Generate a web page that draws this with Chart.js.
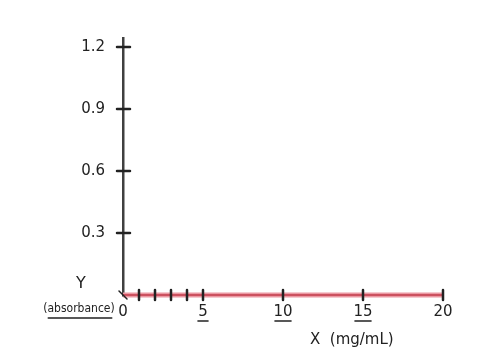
<!DOCTYPE html>
<html>
<head>
<meta charset="utf-8">
<script src="https://cdn.jsdelivr.net/npm/chart.js@4/dist/chart.umd.min.js"></script>
<style>
  html, body { margin: 0; padding: 0; background: #ffffff; }
  #wrap { width: 480px; height: 360px; position: relative; }
</style>
</head>
<body>
<div id="wrap"><canvas id="c" width="480" height="360"></canvas></div>
<script>
// ---- data ----
const concentrations = [0, 20];          // X (mg/mL)
const absorbance = [0, 0];               // Y (absorbance)
const yTickValues = [0.3, 0.6, 0.9, 1.2];
const yTickLabels = ['0.3', '0.6', '0.9', '1.2'];
const xTickValues = [0, 5, 10, 15, 20];
const xTickLabels = ['0', '5', '10', '15', '20'];
const xUnderlined = [5, 10, 15];
const xMarkValues = [1, 2, 3, 4, 5, 10, 15, 20];
const yTitle = 'Y';
const ySubtitle = '(absorbance)';
const xTitle = 'X  (mg/mL)';

const FONT = '"DejaVu Sans", sans-serif';
const INK = '#222222';

const points = concentrations.map((x, i) => ({ x: x, y: absorbance[i] }));

const handPlugin = {
  id: 'hand',
  afterDatasetsDraw(chart) {
    const ctx = chart.ctx;
    const xs = chart.scales.x, ys = chart.scales.y;
    const x0 = xs.getPixelForValue(0), y0 = ys.getPixelForValue(0);
    ctx.save();
    ctx.strokeStyle = INK;
    ctx.lineCap = 'round';
    // y tick marks crossing the axis
    ctx.lineWidth = 2.5;
    yTickValues.forEach(v => {
      const p = ys.getPixelForValue(v);
      ctx.beginPath(); ctx.moveTo(x0 - 6, p); ctx.lineTo(x0 + 7, p); ctx.stroke();
    });
    // x tick marks crossing the axis
    xMarkValues.forEach(v => {
      const p = xs.getPixelForValue(v);
      ctx.beginPath(); ctx.moveTo(p, y0 - 5); ctx.lineTo(p, y0 + 5); ctx.stroke();
    });
    // small cross at origin
    ctx.lineWidth = 1.5;
    ctx.beginPath(); ctx.moveTo(x0 - 4, y0 - 4); ctx.lineTo(x0 + 4, y0 + 4); ctx.stroke();
    // underline the labels 5, 10, 15
    ctx.lineWidth = 1.6;
    xUnderlined.forEach(v => {
      const p = xs.getPixelForValue(v);
      const w = v >= 10 ? 16 : 10;
      ctx.beginPath(); ctx.moveTo(p - w / 2, 321); ctx.lineTo(p + w / 2, 321); ctx.stroke();
    });
    // axis titles
    ctx.fillStyle = INK;
    ctx.textAlign = 'center';
    ctx.textBaseline = 'middle';
    ctx.font = '16px ' + FONT;
    ctx.fillText(yTitle, 81, 284);
    ctx.font = '12px "DejaVu Sans Condensed", ' + FONT;
    ctx.fillText(ySubtitle, 79, 309);
    const tw = ctx.measureText(ySubtitle).width;
    ctx.lineWidth = 1.5;
    ctx.beginPath(); ctx.moveTo(79 - tw / 2 + 5, 318); ctx.lineTo(79 + tw / 2 - 3, 318); ctx.stroke();
    ctx.font = '15px ' + FONT;
    ctx.textAlign = 'left';
    ctx.fillText(xTitle, 310, 340);
    ctx.restore();
  }
};

new Chart(document.getElementById('c'), {
  type: 'line',
  data: {
    datasets: [
      {
        data: points,
        borderColor: '#c23a48',
        borderWidth: 1.5,
        pointRadius: 0,
        clip: false,
        order: 0
      },
      {
        data: points,
        borderColor: '#eb98a2',
        borderWidth: 5,
        pointRadius: 0,
        clip: false,
        order: 1
      }
    ]
  },
  options: {
    responsive: false,
    animation: false,
    events: [],
    layout: { padding: { left: 0, right: 37, top: 38, bottom: 0 } },
    plugins: { legend: { display: false }, tooltip: { enabled: false }, title: { display: false } },
    scales: {
      x: {
        type: 'linear',
        min: 0,
        max: 20,
        afterFit(s) { s.height = 65; },
        afterBuildTicks(s) { s.ticks = xTickValues.map(v => ({ value: v })); },
        ticks: {
          autoSkip: false,
          maxRotation: 0,
          padding: 8,
          color: INK,
          font: { family: FONT, size: 15 },
          callback: (v) => { const i = xTickValues.indexOf(v); return i >= 0 ? xTickLabels[i] : ''; }
        },
        grid: { display: false, drawTicks: false },
        border: { display: true, color: INK, width: 2.5 }
      },
      y: {
        type: 'linear',
        min: 0,
        max: 1.2435,
        afterFit(s) { s.width = 123; },
        afterBuildTicks(s) { s.ticks = yTickValues.map(v => ({ value: v })); },
        ticks: {
          autoSkip: false,
          padding: 18,
          color: INK,
          font: { family: FONT, size: 15 },
          callback: (v) => { const i = yTickValues.indexOf(v); return i >= 0 ? yTickLabels[i] : ''; }
        },
        grid: { display: false, drawTicks: false },
        border: { display: true, color: '#404040', width: 2.5 }
      }
    }
  },
  plugins: [handPlugin]
});
</script>
</body>
</html>
